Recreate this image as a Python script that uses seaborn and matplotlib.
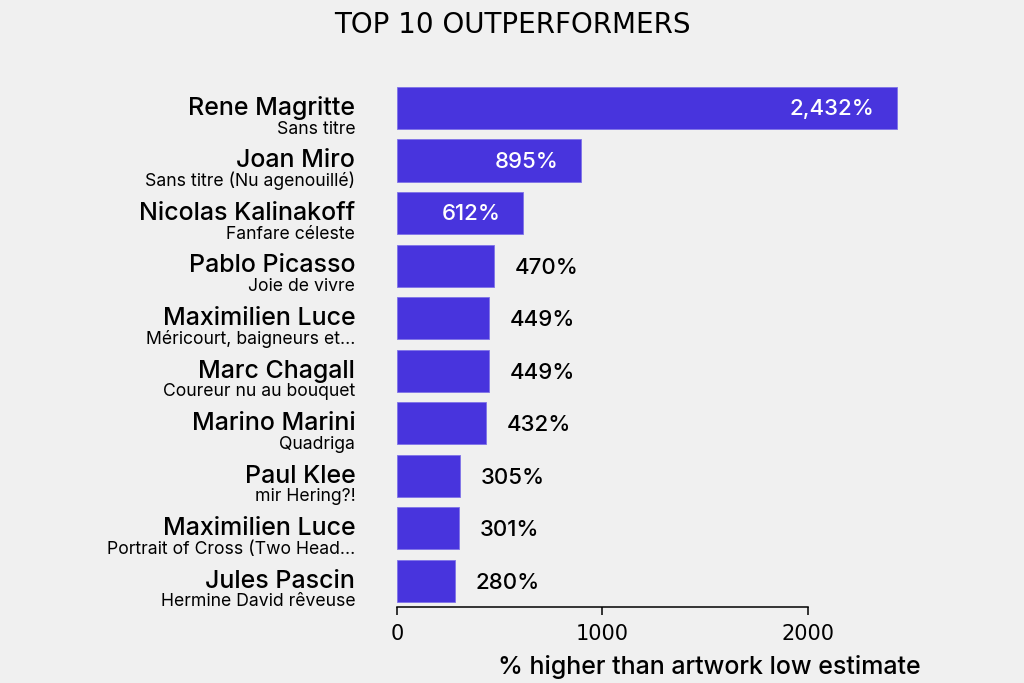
import matplotlib
matplotlib.use("Agg")
import matplotlib.pyplot as plt
import seaborn as sns
import pandas as pd

artists = ["Rene Magritte", "Joan Miro", "Nicolas Kalinakoff", "Pablo Picasso",
           "Maximilien Luce", "Marc Chagall", "Marino Marini", "Paul Klee",
           "Maximilien Luce", "Jules Pascin"]
artworks = ["Sans titre", "Sans titre (Nu agenouillé)", "Fanfare céleste",
            "Joie de vivre", "Méricourt, baigneurs et...", "Coureur nu au bouquet",
            "Quadriga", "mir Hering?!", "Portrait of Cross (Two Head...",
            "Hermine David rêveuse"]
pct = [2432, 895, 612, 470, 449, 449, 432, 305, 301, 280]
xticks = [0, 1000, 2000]

title = "TOP 10 OUTPERFORMERS"
xlabel = "% higher than artwork low estimate"

BG = "#f0f0f0"
BAR = "#4834dd"
LABEL_FONT = ["Inter", "DejaVu Sans"]

sns.set_theme(style="white")
plt.rcParams['font.family'] = ['DejaVu Sans']
plt.rcParams['text.color'] = 'black'
plt.rcParams['axes.labelcolor'] = 'black'
plt.rcParams['xtick.color'] = 'black'

fig = plt.figure(figsize=(10.24, 6.83), dpi=100, facecolor=BG)
ax = fig.add_axes([397 / 1024, 1 - 607 / 683, (921 - 397) / 1024, (607 - 81.7) / 683])
ax.set_facecolor(BG)

df = pd.DataFrame({"row": [f"{i}" for i in range(len(pct))], "pct": pct})
sns.barplot(data=df, x="pct", y="row", color=BAR, saturation=1, width=0.8,
            edgecolor="#7f72e8", linewidth=0.6, ax=ax)

ax.set_xlim(0, 2550)
ax.set_ylim(len(pct) - 0.5, -0.5)
ax.set_xticks(xticks)
ax.set_xticklabels([str(t) for t in xticks], fontsize=15, color="black")
ax.set_yticks(range(len(pct)))
ax.set_yticklabels([""] * len(pct))
ax.set_ylabel("")
ax.tick_params(axis="y", left=False, length=0)
ax.tick_params(axis="x", bottom=True, length=6, width=1.1, color="black",
               labelcolor="black", pad=6)
for s in ["top", "right", "left"]:
    ax.spines[s].set_visible(False)
ax.spines["bottom"].set_color("black")
ax.spines["bottom"].set_linewidth(1.1)
ax.spines["bottom"].set_bounds(0, 2000)

ax.set_xlabel(xlabel, loc="right", fontsize=18, family=LABEL_FONT,
              weight="medium", labelpad=8, color="black")

for i, (a, w, v) in enumerate(zip(artists, artworks, pct)):
    ax.annotate(a, xy=(0, i), xycoords=("axes fraction", "data"), xytext=(-30, -5),
                textcoords="offset points", ha="right", va="baseline",
                fontsize=18, family=LABEL_FONT, weight="medium", color="black")
    ax.annotate(w, xy=(0, i), xycoords=("axes fraction", "data"), xytext=(-30, -18.5),
                textcoords="offset points", ha="right", va="baseline",
                fontsize=12.7, family=LABEL_FONT, color="black")
    lab = f"{v:,}%"
    if v > 600:
        ax.annotate(lab, xy=(v, i), xytext=(-16, -1), textcoords="offset points",
                    ha="right", va="center", fontsize=16, family=LABEL_FONT,
                    weight="medium", color="white")
    else:
        ax.annotate(lab, xy=(v, i), xytext=(15, -1.5), textcoords="offset points",
                    ha="left", va="center", fontsize=16, family=LABEL_FONT,
                    weight="medium", color="black")

fig.text(0.5, 1 - 25 / 683, title, ha="center", va="center", fontsize=20, color="black")

fig.savefig("out.png", dpi=100, facecolor=BG)
